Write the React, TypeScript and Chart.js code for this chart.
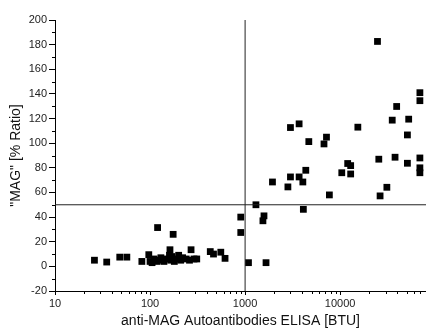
import React, { useEffect, useRef } from "react";
import { Chart, registerables } from "chart.js";

Chart.register(...registerables);

const xValues = [
  26, 35, 48, 57, 82, 97, 100, 105, 110, 118, 120, 125, 130, 140, 150, 160, 162, 165, 170, 175,
  180, 190, 200, 210, 220, 240, 260, 270, 290, 310, 430, 465, 555, 615,
  900, 900, 1085, 1300, 1580, 1540, 1660,
  1940, 2820, 3000, 3700, 4050, 4350, 4100, 7700, 3000, 3700, 4680, 7180, 6760,
  10400, 12000, 12900, 12900, 15350, 24700, 25500, 26300, 31000, 35300, 37800, 39300,
  51000, 51000, 52600, 69000, 69000, 69000, 69000, 69000,
];
const yValues = [
  5, 3.5, 7.5, 7.5, 4, 9.5, 4, 3, 6, 4, 31.5, 5, 7, 4, 6, 9, 13.5, 5, 8, 26,
  4, 6, 9, 5, 7, 6, 5, 13.5, 6, 6, 12, 10, 11.5, 6.5,
  40, 27.5, 3, 50, 41, 37, 3,
  68.5, 64.5, 72.6, 72.6, 68.5, 78, 46.3, 58, 112.7, 115.7, 101.3, 104.9, 99.4,
  76, 83.5, 81.8, 75, 113, 182.6, 87, 57.2, 64.2, 118.7, 88.6, 129.8,
  83.7, 106.7, 119.5, 141, 134.5, 88, 80, 76,
];
const xTickValues = [10, 100, 1000, 10000];
const xRange = [10, 80000];
const yRange = [-20, 200];
const xCutoff = 1000;
const yCutoff = 50;

const FONT = "'Liberation Sans', Arial, sans-serif";

const minorTicks = {
  id: "minorTicks",
  afterDraw(chart: any) {
    const { ctx, scales } = chart;
    const xs = scales.x;
    const ys = scales.y;
    ctx.save();
    ctx.strokeStyle = "#000";
    ctx.lineWidth = 1;
    ctx.beginPath();
    for (const d of xTickValues) {
      for (let k = 2; k <= 9; k++) {
        const v = k * d;
        if (v > xRange[1]) continue;
        const px = Math.round(xs.getPixelForValue(v)) + 0.5;
        ctx.moveTo(px, ys.bottom);
        ctx.lineTo(px, ys.bottom + 3);
      }
    }
    for (let v = yRange[0] + 10; v < yRange[1]; v += 20) {
      const py = Math.round(ys.getPixelForValue(v)) + 0.5;
      ctx.moveTo(xs.left - 3, py);
      ctx.lineTo(xs.left, py);
    }
    ctx.stroke();
    ctx.restore();
  },
};

export default function App() {
  const ref = useRef<HTMLCanvasElement>(null);
  useEffect(() => {
    if (!ref.current) return;
    const points = xValues.map((x, i) => ({ x, y: yValues[i] }));
    const chart = new Chart(ref.current, {
      type: "scatter",
      data: {
        datasets: [
          {
            type: "line",
            data: [
              { x: xCutoff, y: yRange[0] },
              { x: xCutoff, y: yRange[1] },
            ],
            borderColor: "#222",
            borderWidth: 1,
            pointRadius: 0,
          } as any,
          {
            type: "line",
            data: [
              { x: xRange[0], y: yCutoff },
              { x: xRange[1], y: yCutoff },
            ],
            borderColor: "#222",
            borderWidth: 1,
            pointRadius: 0,
          } as any,
          {
            data: points,
            pointStyle: "rect",
            pointRadius: 4.8,
            backgroundColor: "#000",
            borderWidth: 0,
          },
        ],
      },
      options: {
        responsive: false,
        animation: false,
        layout: { autoPadding: false, padding: { top: 20, right: 0, left: 0, bottom: 0 } },
        plugins: { legend: { display: false }, tooltip: { enabled: false } },
        scales: {
          x: {
            type: "logarithmic",
            min: xRange[0],
            max: xRange[1],
            afterBuildTicks: (s: any) => {
              s.ticks = xTickValues.map((v) => ({ value: v, major: true }));
            },
            afterFit: (s: any) => {
              s.height = 43;
            },
            ticks: {
              callback: (v: any) => String(v),
              font: { family: FONT, size: 11 },
              color: "#222",
              maxRotation: 0,
              autoSkip: false,
              padding: 2,
            },
            grid: {
              display: true,
              drawOnChartArea: false,
              drawTicks: true,
              tickLength: 4,
              color: "#000",
            },
            border: { display: true, color: "#000", width: 1 },
            title: {
              display: true,
              text: "anti-MAG Autoantibodies ELISA [BTU]",
              font: { family: FONT, size: 14 },
              color: "#111",
              padding: { top: 0, bottom: 4 },
            },
          },
          y: {
            type: "linear",
            min: yRange[0],
            max: yRange[1],
            afterFit: (s: any) => {
              s.width = 55;
            },
            ticks: {
              stepSize: 20,
              font: { family: FONT, size: 11 },
              color: "#222",
              padding: 2,
            },
            grid: {
              display: true,
              drawOnChartArea: false,
              drawTicks: true,
              tickLength: 6,
              color: "#000",
            },
            border: { display: true, color: "#000", width: 1 },
            title: {
              display: true,
              text: '"MAG" [% Ratio]',
              font: { family: FONT, size: 14 },
              color: "#111",
              padding: { top: 8, bottom: 0 },
            },
          },
        },
      },
      plugins: [minorTicks],
    } as any);
    return () => chart.destroy();
  }, []);
  return (
    <div style={{ position: "absolute", left: 0, top: 0, width: 426, height: 334, background: "#fff" }}>
      <canvas ref={ref} width={426} height={334} />
    </div>
  );
}
